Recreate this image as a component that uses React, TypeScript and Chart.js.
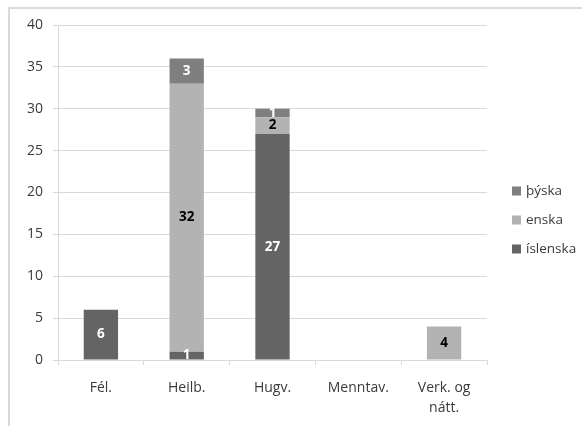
import React, { useEffect, useRef } from "react";
import { Chart, registerables } from "chart.js";

Chart.register(...registerables);

// Faculties (x categories); multi-line labels are arrays
const categories: (string | string[])[] = ["Fél.", "Heilb.", "Hugv.", "Menntav.", ["Verk. og", "nátt."]];

// Counts per language, stacked
const islenska: (number | null)[] = [6, 1, 27, null, null];
const enska: (number | null)[] = [null, 32, 2, null, 4];
const thyska: (number | null)[] = [null, 3, 1, null, null];

const seriesNames = ["íslenska", "enska", "þýska"];
const seriesColors = ["#646464", "#b3b3b3", "#7f7f7f"];
const seriesLabelColors = ["#ffffff", "#000000", "#ffffff"];

const yMin = 0;
const yMax = 40;
const yStep = 5;

const FONT = "'Open Sans', 'DejaVu Sans', sans-serif";
const TEXT = "#3a3a3a";

// Value labels centred in each stacked segment
const segmentLabels = {
  id: "segmentLabels",
  afterDatasetsDraw(chart: any) {
    const ctx = chart.ctx;
    chart.data.datasets.forEach((ds: any, i: number) => {
      const meta = chart.getDatasetMeta(i);
      meta.data.forEach((el: any, j: number) => {
        const v = ds.data[j];
        if (v == null || v === 0) return;
        const { x, y, base } = el.getProps(["x", "y", "base"], true);
        ctx.save();
        ctx.fillStyle = seriesLabelColors[i];
        ctx.font = `bold 13.5px ${FONT}`;
        ctx.textAlign = "center";
        ctx.textBaseline = "middle";
        ctx.fillText(String(v), x, (y + base) / 2);
        ctx.restore();
      });
    });
  },
};

// Legend to the right of the plot, series listed top-down in reverse order
const sideLegend = {
  id: "sideLegend",
  afterDraw(chart: any) {
    const ctx = chart.ctx;
    const area = chart.chartArea;
    const n = chart.data.datasets.length;
    const spacing = 29;
    const box = 9;
    const midY = chart.height / 2 + 7;
    const startY = midY - ((n - 1) * spacing) / 2;
    ctx.save();
    ctx.font = `13.5px ${FONT}`;
    ctx.textBaseline = "middle";
    ctx.textAlign = "left";
    for (let k = 0; k < n; k++) {
      const i = n - 1 - k;
      const ds = chart.data.datasets[i];
      const cy = startY + k * spacing;
      const bx = area.right + 25;
      ctx.fillStyle = ds.backgroundColor;
      ctx.fillRect(bx, cy - box / 2, box, box);
      ctx.fillStyle = TEXT;
      ctx.fillText(ds.label, bx + box + 5, cy);
    }
    ctx.restore();
  },
};

export default function App() {
  const canvasRef = useRef<HTMLCanvasElement | null>(null);

  useEffect(() => {
    if (!canvasRef.current) return;
    Chart.defaults.font.family = FONT;
    const seriesData = [islenska, enska, thyska];
    const chart = new Chart(canvasRef.current, {
      type: "bar",
      data: {
        labels: categories,
        datasets: seriesData.map((d, i) => ({
          label: seriesNames[i],
          data: d,
          backgroundColor: seriesColors[i],
          borderWidth: 0,
          categoryPercentage: 1,
          barPercentage: 0.4,
        })),
      },
      options: {
        responsive: false,
        animation: false,
        layout: { padding: { left: 10, right: 95, top: 25, bottom: 0 } },
        plugins: {
          legend: { display: false },
          tooltip: { enabled: false },
        },
        scales: {
          x: {
            stacked: true,
            grid: {
              drawOnChartArea: false,
              tickLength: 5,
              color: "#d9d9d9",
              offset: true,
            },
            border: { color: "#d9d9d9" },
            ticks: {
              color: TEXT,
              font: { size: 14, lineHeight: 1.45 },
              padding: 13,
              maxRotation: 0,
              autoSkip: false,
            },
            afterFit: (s: any) => {
              s.height = 66;
            },
          },
          y: {
            stacked: true,
            min: yMin,
            max: yMax,
            grid: { color: "#d9d9d9", tickLength: 5 },
            border: { color: "#d9d9d9" },
            ticks: {
              stepSize: yStep,
              color: TEXT,
              font: { size: 14 },
              padding: 10,
            },
            afterFit: (s: any) => {
              s.width = 48;
            },
          },
        },
      },
      plugins: [segmentLabels, sideLegend],
    });
    return () => chart.destroy();
  }, []);

  return (
    <div
      style={{
        position: "fixed",
        left: 0,
        top: 0,
        width: 582,
        height: 426,
        overflow: "hidden",
        background: "#ffffff",
      }}
    >
      <div
        style={{
          position: "absolute",
          left: 8,
          top: 7,
          width: 600,
          height: 440,
          borderTop: "2px solid #dadada",
          borderLeft: "2px solid #dadada",
        }}
      />
      <canvas
        ref={canvasRef}
        width={582}
        height={426}
        style={{ position: "absolute", left: 0, top: 0 }}
      />
    </div>
  );
}
